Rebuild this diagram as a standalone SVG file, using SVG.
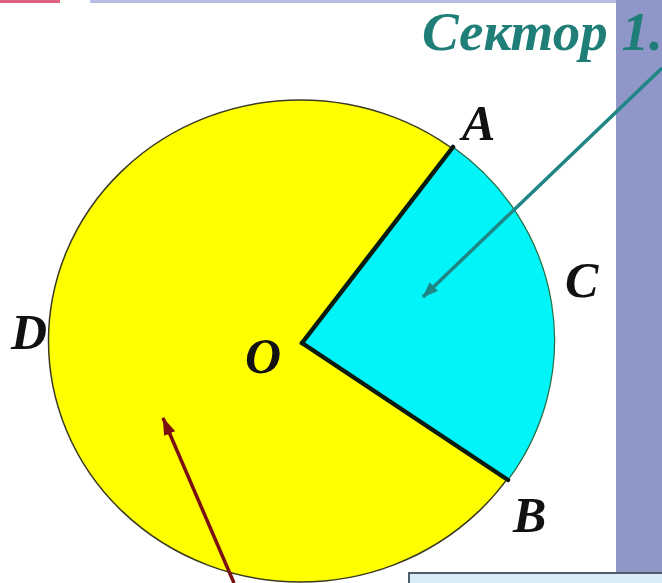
<svg xmlns="http://www.w3.org/2000/svg" width="662" height="583" viewBox="0 0 662 583">
<style>
.lbl{font-family:"Liberation Serif","Times New Roman",serif;font-weight:bold;font-style:italic;font-size:50px;fill:#111}
.title{font-family:"Liberation Serif","Times New Roman",serif;font-weight:bold;font-style:italic;font-size:55px;fill:#1f7f78}
.radius{stroke:#0a1a10;stroke-width:4.5;stroke-linecap:round}
</style>
<defs>
<marker id="headTeal" viewBox="0 0 16 12" refX="15" refY="6" markerWidth="16" markerHeight="12" orient="auto" markerUnits="userSpaceOnUse">
<path d="M0,0 L16,6 L0,12 z" fill="#1f8585"/>
</marker>
<marker id="headBrown" viewBox="0 0 18 12" refX="17" refY="6" markerWidth="18" markerHeight="12" orient="auto" markerUnits="userSpaceOnUse">
<path d="M0,0 L18,6 L0,12 z" fill="#7a1010"/>
</marker>
</defs>
<rect width="662" height="583" fill="#ffffff"/>
<g id="background">
<rect x="90" y="0" width="572" height="3" fill="#b8bce0"/>
<rect x="0" y="0" width="60" height="3" fill="#e06080"/>
<rect x="616" y="0" width="46" height="572" fill="#8f96c8"/>
<rect x="409" y="573" width="260" height="20" fill="#d8ecf8" stroke="#4e5e6e" stroke-width="2"/>
</g>
<g id="circle">
<ellipse cx="300.5" cy="341" rx="252" ry="241" fill="#ffff00" stroke="#3a3a20" stroke-width="1.5"/>
</g>
<g id="sector">
<path d="M302,343 L453,147 A252,241 0 0,1 508,480 Z" fill="#00f4f8" stroke="#2a6a40" stroke-width="1.2"/>
<line class="radius" x1="302" y1="343" x2="453" y2="147"/>
<line class="radius" x1="302" y1="343" x2="508" y2="480"/>
</g>
<g id="labels">
<text class="lbl" x="462" y="140">A</text>
<text class="lbl" x="565" y="297">C</text>
<text class="lbl" x="513" y="532">B</text>
<text class="lbl" x="11" y="349">D</text>
<text class="lbl" x="245" y="373">O</text>
</g>
<g id="title">
<text class="title" x="422" y="50">Сектор 1.</text>
</g>
<g id="connectors">
<line x1="662" y1="68" x2="423" y2="297" stroke="#1f8585" stroke-width="3.5" marker-end="url(#headTeal)"/>
<line x1="234" y1="583" x2="163" y2="418" stroke="#7a1010" stroke-width="3.5" marker-end="url(#headBrown)"/>
</g>
</svg>
